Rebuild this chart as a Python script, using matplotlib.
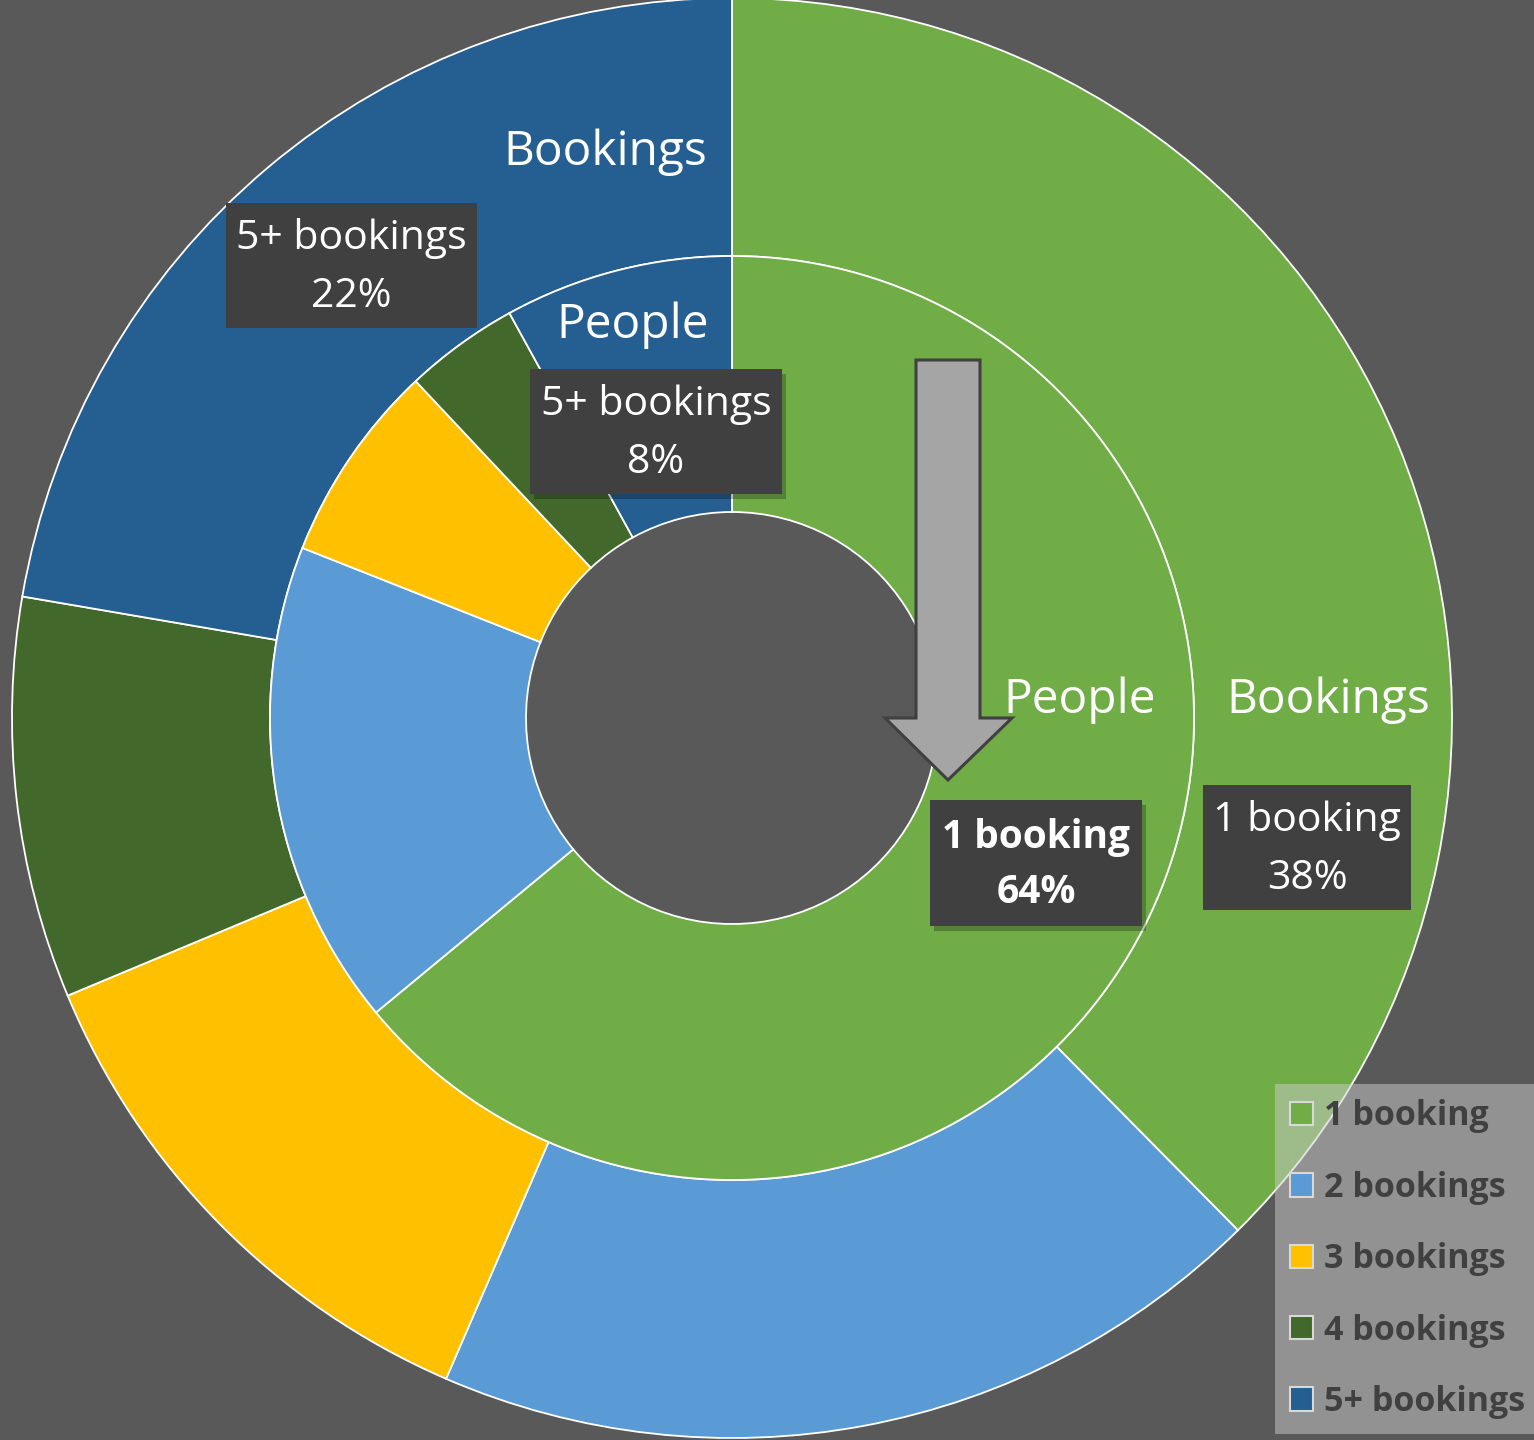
import numpy as np
import matplotlib.pyplot as plt
from matplotlib.patches import Polygon, Patch, Rectangle

# data
categories = ['1 booking', '2 bookings', '3 bookings', '4 bookings', '5+ bookings']
bookings_pct = [37.6, 18.9, 12.2, 9.0, 22.3]
people_pct = [64, 17, 7, 4, 8]
colors = ['#70AD47', '#5B9BD5', '#FFC000', '#43682B', '#255E91']

BG = '#595959'
W, H = 1534, 1440
cx, cy = 732, H - 718

plt.rcParams['font.family'] = ['Open Sans', 'DejaVu Sans']

fig = plt.figure(figsize=(W / 100, H / 100), dpi=100, facecolor=BG)
ax = fig.add_axes([0, 0, 1, 1])
ax.set_facecolor(BG)

# outer ring = bookings, inner ring = people
ax.pie(bookings_pct, colors=colors, radius=720, center=(cx, cy), startangle=90,
       counterclock=False, frame=True,
       wedgeprops=dict(width=258, edgecolor='white', linewidth=1.3))
ax.pie(people_pct, colors=colors, radius=462, center=(cx, cy), startangle=90,
       counterclock=False, frame=True,
       wedgeprops=dict(width=256, edgecolor='white', linewidth=1.3))
ax.set_xlim(0, W)
ax.set_ylim(0, H)
ax.axis('off')


def py(y):
    return H - y


# ring titles
for x, y, t in [(605, 152, 'Bookings'), (633, 325, 'People'),
                (1080, 700, 'People'), (1328, 700, 'Bookings')]:
    ax.text(x, py(y), t, color='white', fontsize=34.5, ha='center', va='center')


def label_box(x0, y0, x1, y1, text, bold=False, shadow=False):
    if shadow:
        ax.add_patch(Rectangle((x0 + 4, py(y1) - 5), x1 - x0, y1 - y0,
                               facecolor='black', alpha=0.25, edgecolor='none', zorder=4))
    ax.add_patch(Rectangle((x0, py(y1)), x1 - x0, y1 - y0,
                           facecolor='#404040', edgecolor='none', zorder=5))
    ax.text((x0 + x1) / 2, py((y0 + y1) / 2) - 2, text, color='white',
            fontsize=28 if bold else 29.5,
            fontweight='bold' if bold else 'normal', ha='center', va='center',
            linespacing=1.55, zorder=6)


label_box(226, 203, 477, 328, f'{categories[4]}\n{round(bookings_pct[4])}%')
label_box(530, 369, 782, 494, f'{categories[4]}\n{people_pct[4]}%', shadow=True)
label_box(930, 800, 1142, 926, f'{categories[0]}\n{people_pct[0]}%', bold=True, shadow=True)
label_box(1203, 785, 1411, 910, f'{categories[0]}\n{round(bookings_pct[0])}%')

# gray down arrow
arrow = [(916, 360), (980, 360), (980, 718), (1012, 718), (948, 780),
         (885, 718), (916, 718)]
ax.add_patch(Polygon([(x, py(y)) for x, y in arrow], closed=True,
                     facecolor='#A5A5A5', edgecolor='#404040', linewidth=2.2, zorder=7))

# legend
handles = [Patch(facecolor=c, edgecolor='#D9D9D9', linewidth=1.5) for c in colors]
leg = ax.legend(handles, categories, loc='upper left',
                bbox_to_anchor=(1275 / W, 1 - 1084 / H),
                frameon=True, facecolor='#CCCCCC', edgecolor='none', framealpha=0.5,
                prop=dict(weight='bold', size=24.5), labelcolor='#404040',
                handlelength=0.68, handleheight=0.68, handletextpad=0.3,
                labelspacing=1.1, borderpad=0.45, borderaxespad=0, fancybox=False)
leg.set_zorder(10)

fig.savefig('out.png', dpi=100, facecolor=BG)
